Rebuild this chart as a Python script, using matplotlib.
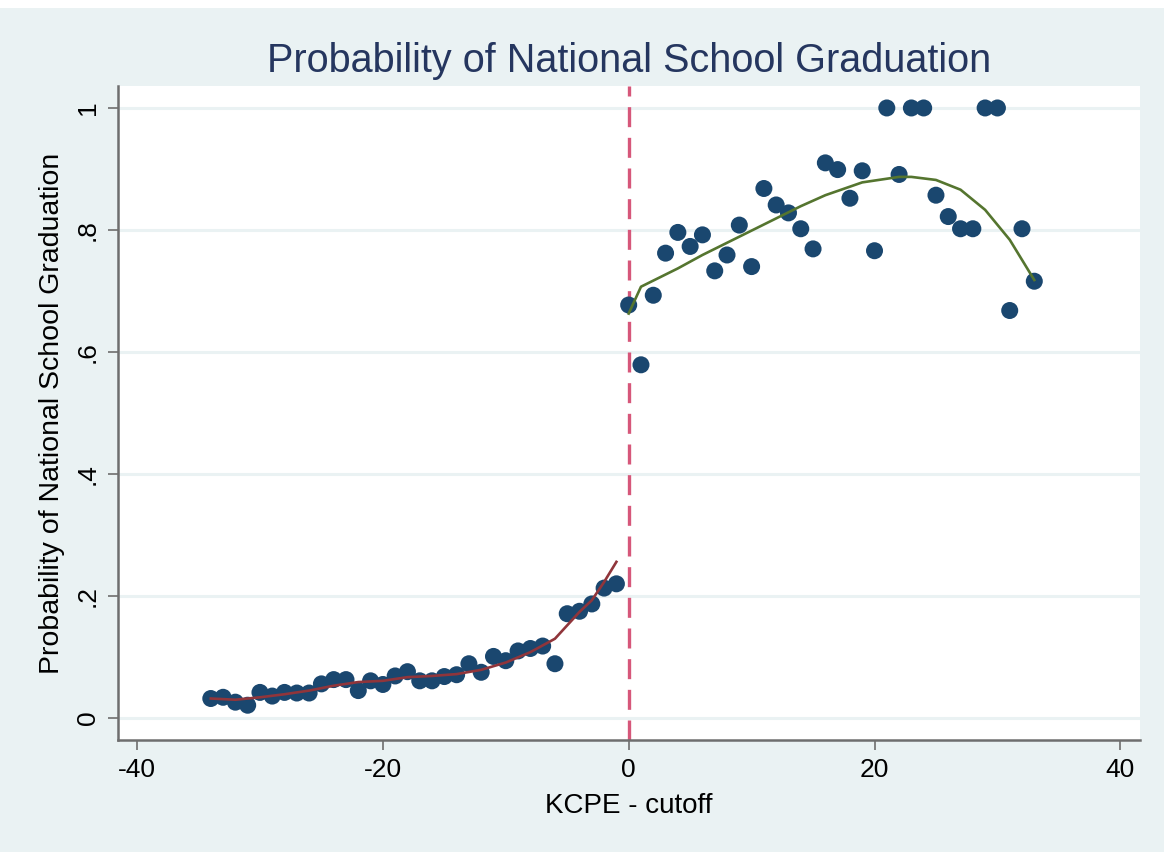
import numpy as np
import matplotlib
matplotlib.use("Agg")
import matplotlib.pyplot as plt
from matplotlib.patches import Rectangle

# binned means left of the cutoff
x_left = [-34, -33, -32, -31, -30, -29, -28, -27, -26, -25, -24, -23, -22, -21, -20, -19, -18,
          -17, -16, -15, -14, -13, -12, -11, -10, -9, -8, -7, -6, -5, -4, -3, -2, -1]
y_left = [0.032, 0.034, 0.026, 0.021, 0.042, 0.036, 0.042, 0.041, 0.041, 0.056, 0.063, 0.063,
          0.045, 0.061, 0.055, 0.069, 0.076, 0.061, 0.061, 0.068, 0.071, 0.089, 0.075, 0.101,
          0.094, 0.110, 0.114, 0.118, 0.089, 0.171, 0.175, 0.187, 0.213, 0.220]

# binned means right of the cutoff
x_right = [0, 1, 2, 3, 4, 5, 6, 7, 8, 9, 10, 11, 12, 13, 14, 15, 16, 17, 18, 19, 20, 21, 22,
           23, 24, 25, 26, 27, 28, 29, 30, 31, 32, 33]
y_right = [0.677, 0.579, 0.693, 0.762, 0.796, 0.773, 0.792, 0.733, 0.759, 0.808, 0.740, 0.868,
           0.841, 0.828, 0.802, 0.769, 0.910, 0.899, 0.852, 0.897, 0.766, 1.0, 0.891, 1.0, 1.0,
           0.857, 0.822, 0.802, 0.802, 1.0, 1.0, 0.668, 0.802, 0.716]

# fitted curves
fit_left_x = [-34, -32, -30, -28, -26, -24, -22, -20, -18, -16, -14, -12, -10, -8, -6, -4, -3, -2, -1]
fit_left_y = [0.032, 0.030, 0.034, 0.039, 0.045, 0.053, 0.059, 0.061, 0.067, 0.069, 0.072,
              0.079, 0.091, 0.108, 0.130, 0.174, 0.193, 0.223, 0.256]
fit_right_x = [0, 1, 4, 6, 9, 12, 14, 16, 19, 21, 22, 23, 25, 27, 29, 31, 33]
fit_right_y = [0.663, 0.707, 0.737, 0.759, 0.789, 0.819, 0.839, 0.857, 0.878, 0.884, 0.887,
               0.887, 0.882, 0.866, 0.833, 0.784, 0.718]

xticks = [-40, -20, 0, 20, 40]
yticks = [0, 0.2, 0.4, 0.6, 0.8, 1]
ylabels = ["0", ".2", ".4", ".6", ".8", "1"]

bg = "#EAF2F3"
navy = "#1A476F"

plt.rcParams["font.family"] = ["Liberation Sans", "DejaVu Sans"]
plt.rcParams["axes.unicode_minus"] = False

fig = plt.figure(figsize=(11.64, 8.52), dpi=100, facecolor=bg)
# white strip at the very top (page margin in the source)
fig.patches.append(Rectangle((0, 1 - 8 / 852), 1, 8 / 852, transform=fig.transFigure,
                             facecolor="white", edgecolor="none"))
ax = fig.add_axes([118 / 1164, 1 - 740 / 852, (1140 - 118) / 1164, (740 - 86) / 852])
ax.set_facecolor("white")

for yv in yticks:
    ax.axhline(yv, color=bg, lw=2.2, zorder=0)

ax.axvline(0, color="#D6577A", lw=2.4, dashes=(6, 3.2), zorder=1)

ax.scatter(x_left, y_left, s=150, color=navy, edgecolors="none", zorder=3)
ax.scatter(x_right, y_right, s=150, color=navy, edgecolors="none", zorder=3)
ax.plot(fit_left_x, fit_left_y, color="#90353B", lw=1.9, zorder=4)
ax.plot(fit_right_x, fit_right_y, color="#55752F", lw=1.9, zorder=4)

ax.set_xlim(-41.55, 41.6)
ax.set_ylim(-0.036, 1.036)
ax.set_xticks(xticks)
ax.set_yticks(yticks)
ax.set_yticklabels(ylabels, rotation=90, va="center")
ax.tick_params(axis="both", labelsize=19, length=7, width=1.4, color="#808080", pad=6)

for side in ["top", "right"]:
    ax.spines[side].set_visible(False)
for side in ["left", "bottom"]:
    ax.spines[side].set_color("#6E6E6E")
    ax.spines[side].set_linewidth(1.8)

ax.set_xlabel("KCPE - cutoff", fontsize=20, labelpad=8)
ax.set_ylabel("Probability of National School Graduation", fontsize=20.5, labelpad=8)
ax.set_title("Probability of National School Graduation", fontsize=28.5, color="#25365F", pad=10)

fig.savefig("out.png", dpi=100, facecolor=bg)
